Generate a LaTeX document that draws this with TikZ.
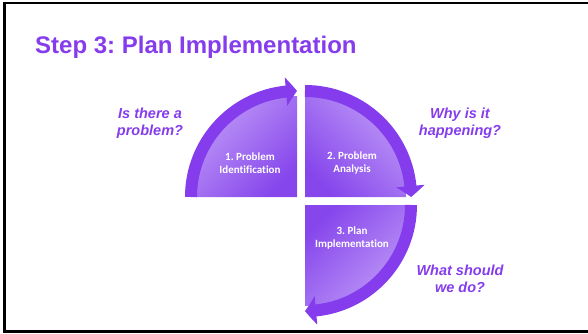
\documentclass[tikz,border=0pt]{standalone}
\usepackage{fontspec}
\setmainfont{Liberation Sans}
\newfontfamily\calibri[Ligatures=NoCommon]{Carlito}
\frenchspacing
\usetikzlibrary{positioning,arrows.meta,bending}
\definecolor{stepviolet}{RGB}{132,60,236}
\definecolor{slicelight}{RGB}{190,152,247}
\definecolor{slicedark}{RGB}{134,70,236}
\tikzset{ring/.style={draw=stepviolet, line width=12pt, -{Triangle[length=11pt 0 0, width=28pt 0 0, bend]}}}
\tikzset{slice/.style={top color=slicelight, bottom color=slicedark}}
\tikzset{slicelabel/.style={text=white, align=center, inner sep=1pt, font=\calibri\bfseries\fontsize{11}{12.5}\selectfont}}
\tikzset{question/.style={text=stepviolet, align=center, inner sep=1pt, font=\bfseries\itshape\fontsize{14.5}{17}\selectfont}}

\begin{document}
\begin{tikzpicture}[x=1pt,y=1pt]
	\useasboundingbox (0,0) rectangle (588,333);
	% frame of the slide, open on the right
	\draw[line width=2.6pt] (588,329.8) -- (4.2,329.8) -- (4.2,1.6) -- (588,1.6);
	\node[anchor=base west, inner sep=0pt, text=stepviolet, font=\bfseries\fontsize{24}{28}\selectfont] (title) at (35,280) {Step 3: Plan Implementation};

	\coordinate (c1) at (297,136);
	\coordinate (c2) at (305,136);
	\coordinate (c3) at (305,128);

	% the three slices
	\shade[slice, shading angle=45] (c1) -- ++(180:101pt) arc[start angle=180, end angle=90, radius=101pt] -- cycle;
	\shade[slice, shading angle=-45] (c2) -- ++(90:101pt) arc[start angle=90, end angle=0, radius=101pt] -- cycle;
	\shade[slice, shading angle=-135] (c3) -- ++(0:101pt) arc[start angle=0, end angle=-90, radius=101pt] -- cycle;

	% arrows round the rim
	\draw[ring] (c1) ++(180:106pt) arc[start angle=180, end angle=90, radius=106pt];
	\draw[ring] (c2) ++(90:106pt) arc[start angle=90, end angle=0, radius=106pt];
	\draw[ring] (c3) ++(0:106pt) arc[start angle=0, end angle=-90, radius=106pt];

	\node[slicelabel] (identify) at (250,170) {1. Problem\\Identification};
	\node[slicelabel] (analyse) at (352,170) {2. Problem\\Analysis};
	\node[slicelabel] (implement) at (352,95) {3. Plan\\Implementation};

	\node[question] (isthere) at (150,210) {Is there a\\problem?};
	\node[question] (why) at (460,210) {Why is it\\happening?};
	\node[question] (what) at (460,54) {What should\\we do?};
\end{tikzpicture}
\end{document}
